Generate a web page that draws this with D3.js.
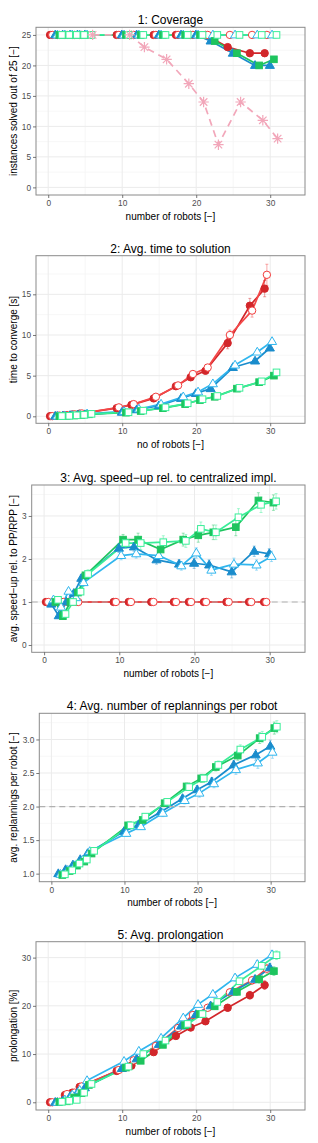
<!DOCTYPE html>
<html><head><meta charset="utf-8">
<script src="https://cdn.jsdelivr.net/npm/d3@7"></script>
<style>body{margin:0;background:#fff}text{font-family:"Liberation Sans",Arial,sans-serif}</style>
</head><body><svg id="c" width="318" height="1143"></svg>
<script>
// ---------- data ----------
const robots = [1,2,3,4,5,10,12,15,18,20,22,25,28,30];
const pinkRobots = [5,10,12,15,18,20,22,25,28,30];

// Panel 1: coverage
const cov_redF   = [25,25,25,25,25,25,25,25,25,25,25,23,22,22];
const cov_redO   = [25,25,25,25,25,25,25,25,25,25,25,25,25,25];
const cov_blueF  = [25,25,25,25,25,25,25,25,25,25,24,22,20,20];
const cov_blueO  = [25,25,25,25,25,25,25,25,25,25,25,25,25,25];
const cov_greenF = [25,25,25,25,25,25,25,25,25,25,24,22,20,21];
const cov_greenO = [25,25,25,25,25,25,25,25,25,25,25,25,25,25];
const cov_pink   = [25,25,23,21,17,14,7,14,11,8];

// Panel 2: time to solution
const time_redF   = [0.02,0.08,0.15,0.22,0.33,1.0,1.4,2.2,3.7,4.8,5.6,9.0,13.6,15.7];
const time_redO   = [0.02,0.08,0.15,0.25,0.35,1.1,1.5,2.4,3.8,5.2,6.0,10.0,13.0,17.4];
const time_blueF  = [0.02,0.05,0.1,0.15,0.2,0.5,0.8,1.3,2.2,2.8,3.4,6.0,6.8,8.4];
const time_blueO  = [0.03,0.06,0.1,0.2,0.3,0.6,0.9,1.5,2.4,3.0,4.0,6.3,7.9,9.2];
const time_greenF = [0.02,0.05,0.1,0.15,0.25,0.45,0.65,1.0,1.5,2.0,2.4,3.4,4.2,5.0];
const time_greenO = [0.03,0.06,0.12,0.18,0.3,0.5,0.7,1.1,1.6,2.1,2.5,3.5,4.3,5.4];
const time_redF_err = [0,0,0,0,0,0.1,0.1,0.2,0.2,0.3,0.3,0.7,0.9,1.0];
const time_redO_err = [0,0,0,0,0,0.1,0.1,0.2,0.2,0.3,0.3,0.6,0.8,1.3];

// Panel 3: speed-up
const spd_redF   = [1,1,1,1,1,1,1,1,1,1,1,1,1,1];
const spd_redO   = [1,1,1,1,1,1,1,1,1,1,1,1,1,1];
const spd_blueF  = [0.95,0.68,1.0,1.2,1.55,2.25,2.28,1.98,1.88,1.9,1.86,1.7,2.18,2.12];
const spd_blueO  = [1.05,0.88,1.25,1.1,1.45,2.08,2.12,2.08,1.84,2.14,1.74,1.88,1.86,2.06];
const spd_greenF = [1.0,0.67,1.0,1.22,1.62,2.45,2.45,2.22,2.45,2.55,2.62,2.74,3.36,3.31];
const spd_greenO = [1.05,0.72,1.0,1.24,1.65,2.37,2.37,2.39,2.42,2.7,2.62,2.97,3.26,3.34];
const spd_blue_err  = [0.05,0.05,0.05,0.05,0.08,0.1,0.1,0.1,0.1,0.12,0.12,0.14,0.12,0.12];
const spd_green_err = [0.05,0.05,0.05,0.06,0.1,0.12,0.15,0.15,0.15,0.16,0.17,0.2,0.18,0.18];

// Panel 4: replannings per robot
const rep_blueF  = [1.0,1.06,1.13,1.21,1.3,1.63,1.73,1.92,2.12,2.25,2.37,2.62,2.77,2.9];
const rep_blueO  = [0.99,1.05,1.12,1.2,1.33,1.6,1.7,1.9,2.09,2.2,2.34,2.55,2.65,2.81];
const rep_greenF = [0.98,1.04,1.12,1.18,1.3,1.72,1.8,2.05,2.3,2.42,2.59,2.76,3.02,3.17];
const rep_greenO = [0.99,1.05,1.15,1.21,1.34,1.72,1.85,2.07,2.29,2.42,2.62,2.85,3.04,3.19];
const rep_err    = [0.01,0.01,0.02,0.02,0.03,0.04,0.04,0.05,0.05,0.06,0.06,0.07,0.08,0.09];

// Panel 5: prolongation
const pro_redF   = [0,0.1,1.5,2.0,3.2,6.5,7.6,10.4,13.75,15.5,16.8,19.6,22.2,24.3];
const pro_redO   = [0,0.1,1.7,2.0,3.3,6.7,8.7,11.7,15.4,18.1,19.6,22.8,25.3,27.7];
const pro_blueF  = [0,0.3,1.2,2.0,3.0,7.0,9.0,12.0,15.8,18.2,20.0,22.9,25.5,27.9];
const pro_blueO  = [0,0.5,1.5,2.5,4.5,8.5,10.6,13.3,17.5,20.3,22.4,25.8,28.6,30.6];
const pro_greenF = [0.1,0.2,1.0,1.9,3.6,7.2,8.6,11.9,16.0,18.3,19.9,22.9,25.5,27.2];
const pro_greenO = [0.1,0.3,0.5,2.0,3.8,7.4,10.0,12.8,16.25,18.3,20.8,25.1,28.3,30.5];
const pro_err    = [0.1,0.1,0.2,0.2,0.3,0.4,0.4,0.5,0.5,0.6,0.6,0.7,0.8,0.9];

// ---------- styles ----------
const S = {
  redF:   {color:"#d2262a", line:"#d2262a", shape:"circle",   filled:true,  off:-0.75},
  redO:   {color:"#f23c3c", line:"#f44848", shape:"circle",   filled:false, off:-0.45},
  blueF:  {color:"#1a8ccc", line:"#1a8ccc", shape:"triangle", filled:true,  off:-0.05},
  blueO:  {color:"#30b6ee", line:"#30b6ee", shape:"triangle", filled:false, off:0.25},
  greenF: {color:"#1ec45e", line:"#1ec45e", shape:"square",   filled:true,  off:0.5},
  greenO: {color:"#3aee98", line:"#3aee98", shape:"square",   filled:false, off:0.85},
  pink:   {color:"#f2a7ba", line:"#f2a7ba", shape:"star",     filled:false, off:1.0, dashed:true}
};

const mk = (key, xs, ys, err) => ({key, xs, ys, err});

const panels = [
  {top:27.3, bottom:195, left:36, title:"1: Coverage", xlab:"number of robots [\u2212]",
   ylab:"instances solved out of  25 [\u2212]", yd:[-1.25,26.25], yt:[0,5,10,15,20,25], ym:[2.5,7.5,12.5,17.5,22.5], fmt:d3.format("d"),
   series:[mk("redF",robots,cov_redF),mk("redO",robots,cov_redO),mk("blueF",robots,cov_blueF),mk("blueO",robots,cov_blueO),
           mk("greenF",robots,cov_greenF),mk("greenO",robots,cov_greenO),mk("pink",pinkRobots,cov_pink)]},
  {top:255.7, bottom:423.3, left:36, title:"2: Avg. time to solution", xlab:"no of robots [\u2212]",
   ylab:"time to converge [s]", yd:[-0.86,19.75], yt:[0,5,10,15], ym:[2.5,7.5,12.5,17.5], fmt:d3.format("d"),
   series:[mk("redF",robots,time_redF,time_redF_err),mk("redO",robots,time_redO,time_redO_err),mk("blueF",robots,time_blueF),mk("blueO",robots,time_blueO),
           mk("greenF",robots,time_greenF),mk("greenO",robots,time_greenO)]},
  {top:485, bottom:652.3, left:31.7, title:"3: Avg. speed\u2212up rel. to centralized impl.", xlab:"number of robots [\u2212]",
   ylab:"avg. speed\u2212up rel. to PP/RPP [\u2212]", yd:[-0.17,3.72], yt:[0,1,2,3], ym:[0.5,1.5,2.5,3.5], fmt:d3.format("d"), ref:1,
   series:[mk("redF",robots,spd_redF),mk("redO",robots,spd_redO),mk("blueF",robots,spd_blueF,spd_blue_err),mk("blueO",robots,spd_blueO,spd_blue_err),
           mk("greenF",robots,spd_greenF,spd_green_err),mk("greenO",robots,spd_greenO,spd_green_err)]},
  {top:713.3, bottom:881.7, left:39.3, title:"4: Avg. number of replannings per robot", xlab:"number of robots [\u2212]",
   ylab:"avg. replannings per robot  [\u2212]", yd:[0.88,3.39], yt:[1,1.5,2,2.5,3], ym:[1.25,1.75,2.25,2.75,3.25], fmt:d3.format(".1f"), ref:2,
   series:[mk("blueF",robots,rep_blueF,rep_err),mk("blueO",robots,rep_blueO,rep_err),
           mk("greenF",robots,rep_greenF,rep_err),mk("greenO",robots,rep_greenO,rep_err)]},
  {top:941.7, bottom:1110, left:36, title:"5: Avg. prolongation", xlab:"number of robots [\u2212]",
   ylab:"prolongation [%]", yd:[-1.6,33.3], yt:[0,10,20,30], ym:[5,15,25], fmt:d3.format("d"),
   series:[mk("redF",robots,pro_redF,pro_err),mk("redO",robots,pro_redO,pro_err),mk("blueF",robots,pro_blueF,pro_err),mk("blueO",robots,pro_blueO,pro_err),
           mk("greenF",robots,pro_greenF,pro_err),mk("greenO",robots,pro_greenO,pro_err)]}
];

const xTicks = [0,10,20,30], xMinor = [5,15,25];
const RIGHT = 305;
const svg = d3.select("#c");

function drawShape(g, st, cx, cy) {
  const fill = st.filled ? st.color : "#fff";
  if (st.shape === "circle") {
    g.append("circle").attr("cx",cx).attr("cy",cy).attr("r",3.7)
      .attr("fill",fill).attr("stroke",st.color).attr("stroke-width",1);
  } else if (st.shape === "square") {
    g.append("rect").attr("x",cx-3.3).attr("y",cy-3.3).attr("width",6.6).attr("height",6.6)
      .attr("fill",fill).attr("stroke",st.color).attr("stroke-width",1);
  } else if (st.shape === "triangle") {
    const s = 4.8;
    g.append("path").attr("d",`M${cx},${cy-s}L${cx+s*0.95},${cy+s*0.62}L${cx-s*0.95},${cy+s*0.62}Z`)
      .attr("fill",fill).attr("stroke",st.color).attr("stroke-width",1);
  } else if (st.shape === "star") {
    const r = 5.2, d = r*0.72;
    g.append("path").attr("d",`M${cx-r},${cy}L${cx+r},${cy}M${cx},${cy-r}L${cx},${cy+r}M${cx-d},${cy-d}L${cx+d},${cy+d}M${cx-d},${cy+d}L${cx+d},${cy-d}`)
      .attr("stroke",st.color).attr("stroke-width",1.2).attr("fill","none");
  }
}

panels.forEach(p => {
  const x = d3.scaleLinear().domain([-1.65,34.7]).range([p.left, RIGHT]);
  const y = d3.scaleLinear().domain(p.yd).range([p.bottom, p.top]);
  const g = svg.append("g");
  g.append("rect").attr("x",p.left).attr("y",p.top).attr("width",RIGHT-p.left).attr("height",p.bottom-p.top).attr("fill","#fff");
  xMinor.forEach(v => g.append("line").attr("x1",x(v)).attr("x2",x(v)).attr("y1",p.top).attr("y2",p.bottom).attr("stroke","#f5f5f5").attr("stroke-width",0.8));
  p.ym.forEach(v => g.append("line").attr("x1",p.left).attr("x2",RIGHT).attr("y1",y(v)).attr("y2",y(v)).attr("stroke","#f5f5f5").attr("stroke-width",0.8));
  xTicks.forEach(v => g.append("line").attr("x1",x(v)).attr("x2",x(v)).attr("y1",p.top).attr("y2",p.bottom).attr("stroke","#ebebeb").attr("stroke-width",1));
  p.yt.forEach(v => g.append("line").attr("x1",p.left).attr("x2",RIGHT).attr("y1",y(v)).attr("y2",y(v)).attr("stroke","#ebebeb").attr("stroke-width",1));

  const cg = g.append("g");
  p.series.forEach(s => {
    const st = S[s.key];
    const pts = s.xs.map((n,i) => [x(n+st.off), y(s.ys[i])]);
    cg.append("path").attr("d", d3.line()(pts)).attr("fill","none")
      .attr("stroke",st.line).attr("stroke-width",st.dashed?1.7:1.7)
      .attr("stroke-dasharray", st.dashed ? "7,5" : null).attr("stroke-linejoin","round");
  });
  if (p.ref !== undefined) {
    cg.append("line").attr("x1",p.left).attr("x2",RIGHT).attr("y1",y(p.ref)).attr("y2",y(p.ref))
      .attr("stroke","#b0b0b0").attr("stroke-width",1.2).attr("stroke-dasharray","6,4");
  }
  p.series.forEach(s => {
    if (!s.err) return;
    const st = S[s.key];
    s.xs.forEach((n,i) => {
      const e = s.err[i]; if (!e) return;
      const cx = x(n+st.off), y1 = y(s.ys[i]-e), y2 = y(s.ys[i]+e);
      cg.append("line").attr("x1",cx).attr("x2",cx).attr("y1",y1).attr("y2",y2).attr("stroke",st.color).attr("stroke-opacity",0.55).attr("stroke-width",0.8);
      [y1,y2].forEach(yy => cg.append("line").attr("x1",cx-1.5).attr("x2",cx+1.5).attr("y1",yy).attr("y2",yy).attr("stroke",st.color).attr("stroke-opacity",0.55).attr("stroke-width",0.8));
    });
  });
  p.series.forEach(s => {
    const st = S[s.key];
    s.xs.forEach((n,i) => drawShape(cg, st, x(n+st.off), y(s.ys[i])));
  });
  g.append("rect").attr("x",p.left).attr("y",p.top).attr("width",RIGHT-p.left).attr("height",p.bottom-p.top)
    .attr("fill","none").attr("stroke","#8a8a8a").attr("stroke-width",1);

  const ax = g.append("g").attr("transform",`translate(0,${p.bottom})`)
    .call(d3.axisBottom(x).tickValues(xTicks).tickSize(3).tickPadding(2).tickFormat(d3.format("d")));
  const ay = g.append("g").attr("transform",`translate(${p.left},0)`)
    .call(d3.axisLeft(y).tickValues(p.yt).tickSize(3).tickPadding(2).tickFormat(p.fmt));
  [ax,ay].forEach(a => {
    a.select(".domain").remove();
    a.selectAll(".tick line").attr("stroke","#555").attr("stroke-width",0.8);
    a.selectAll(".tick text").attr("fill","#4d4d4d").style("font-size","8.3px").style("font-family","Liberation Sans, Arial, sans-serif");
  });

  g.append("text").attr("x",(p.left+RIGHT)/2).attr("y",p.top-3).attr("text-anchor","middle")
    .style("font-size","12px").attr("fill","#000").text(p.title);
  g.append("text").attr("x",(p.left+RIGHT)/2).attr("y",p.bottom+24.5).attr("text-anchor","middle")
    .style("font-size","10px").attr("fill","#000").text(p.xlab);
  const cy = (p.top+p.bottom)/2;
  g.append("text").attr("transform",`translate(16.5,${cy}) rotate(-90)`).attr("text-anchor","middle")
    .style("font-size","10px").attr("fill","#000").text(p.ylab);
});
</script></body></html>
